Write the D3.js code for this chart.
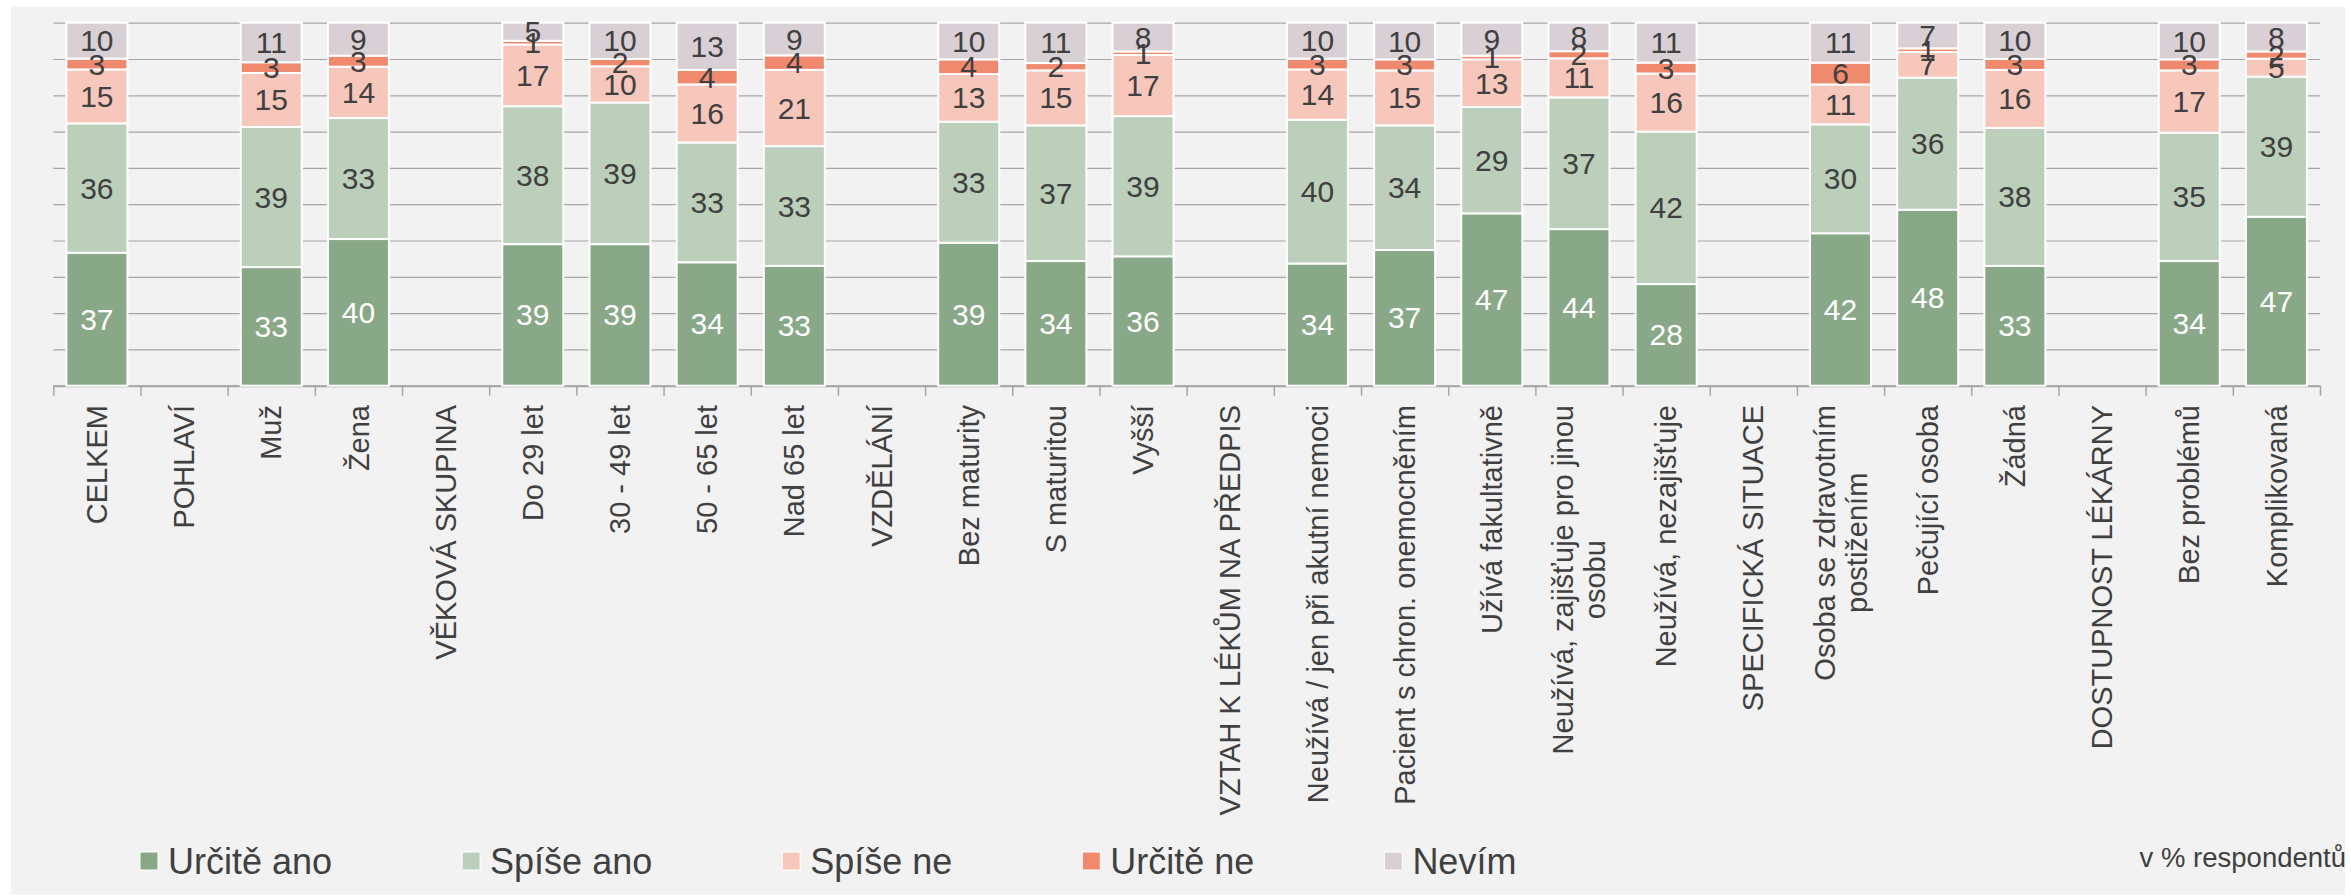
<!DOCTYPE html>
<html>
<head>
<meta charset="utf-8">
<script src="https://cdn.jsdelivr.net/npm/d3@7"></script>
<style>
  body { margin: 0; background: #fff; }
  text { font-family: "Liberation Sans", Arial, sans-serif; fill: #404040; }
</style>
</head>
<body>
<div id="chart"></div>
<script>
// DATA
// ------------------------------------------------------------------

var categories = [
  "CELKEM", "POHLAVÍ", "Muž", "Žena", "VĚKOVÁ SKUPINA", "Do 29 let",
  "30 - 49 let", "50 - 65 let", "Nad 65 let", "VZDĚLÁNÍ", "Bez maturity",
  "S maturitou", "Vyšší", "VZTAH K LÉKŮM NA PŘEDPIS",
  "Neužívá / jen při akutní nemoci", "Pacient s chron. onemocněním",
  "Užívá fakultativně", "Neužívá, zajišťuje pro jinou osobu",
  "Neužívá, nezajišťuje", "SPECIFICKÁ SITUACE",
  "Osoba se zdravotním postižením", "Pečující osoba", "Žádná",
  "DOSTUPNOST LÉKÁRNY", "Bez problémů", "Komplikovaná"
];

var seriesNames = ["Určitě ano", "Spíše ano", "Spíše ne", "Určitě ne", "Nevím"];
var seriesColors = ["#89a887", "#bbcfba", "#f8c7bc", "#f08a6f", "#d9d0d6"];

var urciteAno = [37, null, 33, 40, null, 39, 39, 34, 33, null, 39, 34, 36, null,
                 34, 37, 47, 44, 28, null, 42, 48, 33, null, 34, 47];
var spiseAno  = [36, null, 39, 33, null, 38, 39, 33, 33, null, 33, 37, 39, null,
                 40, 34, 29, 37, 42, null, 30, 36, 38, null, 35, 39];
var spiseNe   = [15, null, 15, 14, null, 17, 10, 16, 21, null, 13, 15, 17, null,
                 14, 15, 13, 11, 16, null, 11, 7, 16, null, 17, 5];
var urciteNe  = [3, null, 3, 3, null, 1, 2, 4, 4, null, 4, 2, 1, null,
                 3, 3, 1, 2, 3, null, 6, 1, 3, null, 3, 2];
var nevim     = [10, null, 11, 9, null, 5, 10, 13, 9, null, 10, 11, 8, null,
                 10, 10, 9, 8, 11, null, 11, 7, 10, null, 10, 8];

var unitNote = "v % respondentů";

// CANVAS
// ------------------------------------------------------------------

var width = 2351,
    height = 896;

var svg = d3.select("#chart")
    .append("svg")
    .attr("width", width)
    .attr("height", height);

svg.append("rect")
    .attr("x", 11)
    .attr("y", 7)
    .attr("width", 2334)
    .attr("height", 888)
    .attr("fill", "#f2f2f2");

// SCALES
// ------------------------------------------------------------------

var plotLeft = 53.3,
    plotRight = 2320,
    plotTop = 22.7,
    plotBottom = 385.7;

var xScale = d3.scaleBand()
    .domain(categories)
    .range([plotLeft, plotRight])
    .paddingInner(0.3)
    .paddingOuter(0.15);

var yScale = d3.scaleLinear()
    .domain([0, 1])
    .range([plotBottom, plotTop]);

var color = d3.scaleOrdinal()
    .domain(seriesNames)
    .range(seriesColors);

// boundaries between categories, for the axis ticks
var tickScale = d3.scaleLinear()
    .domain([0, categories.length])
    .range([plotLeft, plotRight]);

// GRID AND AXIS
// ------------------------------------------------------------------

var grid = svg.append("g")
    .attr("transform", "translate(" + plotLeft + ",0)")
    .call(d3.axisLeft(yScale)
      .ticks(10)
      .tickSize(-(plotRight - plotLeft))
      .tickFormat(""));
grid.select(".domain").remove();
grid.selectAll("line")
    .attr("stroke", "#a6a6a6")
    .attr("stroke-width", 1.2);

var xAxis = svg.append("g")
    .attr("transform", "translate(0," + plotBottom + ")")
    .call(d3.axisBottom(tickScale)
      .tickValues(d3.range(categories.length + 1))
      .tickSize(10)
      .tickSizeOuter(0)
      .tickFormat(""));
xAxis.select(".domain")
    .attr("stroke", "#a6a6a6")
    .attr("stroke-width", 2);
xAxis.selectAll(".tick line")
    .attr("stroke", "#a6a6a6")
    .attr("stroke-width", 1.5);

// BARS
// ------------------------------------------------------------------

var rows = categories.map(function(c, i) {
  var r = { cat: c };
  r[seriesNames[0]] = urciteAno[i];
  r[seriesNames[1]] = spiseAno[i];
  r[seriesNames[2]] = spiseNe[i];
  r[seriesNames[3]] = urciteNe[i];
  r[seriesNames[4]] = nevim[i];
  return r;
}).filter(function(r) { return r[seriesNames[0]] != null; });

var stacked = d3.stack()
    .keys(seriesNames)
    .offset(d3.stackOffsetExpand)(rows);

var layers = svg.append("g")
    .selectAll("g")
    .data(stacked)
    .enter().append("g")
    .attr("fill", function(d) { return color(d.key); });

layers.selectAll("rect")
    .data(function(d) { return d; })
    .enter().append("rect")
    .attr("x", function(d) { return xScale(d.data.cat); })
    .attr("y", function(d) { return yScale(d[1]); })
    .attr("width", xScale.bandwidth())
    .attr("height", function(d) { return yScale(d[0]) - yScale(d[1]); })
    .attr("stroke", "#fff")
    .attr("stroke-width", 2);

// value labels, centred in each segment
stacked.forEach(function(layer, k) {
  svg.append("g")
      .selectAll("text")
      .data(layer)
      .enter().append("text")
      .attr("x", function(d) { return xScale(d.data.cat) + xScale.bandwidth() / 2; })
      .attr("y", function(d) { return (yScale(d[0]) + yScale(d[1])) / 2; })
      .attr("dy", "0.35em")
      .attr("text-anchor", "middle")
      .style("font-size", "30px")
      .style("fill", k == 0 ? "#ffffff" : "#404040")
      .text(function(d) { return d.data[layer.key]; });
});

// CATEGORY LABELS
// ------------------------------------------------------------------

var labelSize = 29,
    labelMax = 419,
    lineStep = 32,
    labelTop = 405;

var measure = svg.append("text").style("font-size", labelSize + "px");
function textLength(s) {
  measure.text(s);
  return measure.node().getComputedTextLength();
}

function wrapLines(s) {
  var words = s.split(" "), lines = [], line = "";
  words.forEach(function(w) {
    var test = line ? line + " " + w : w;
    if (line && textLength(test) > labelMax) {
      lines.push(line);
      line = w;
    } else {
      line = test;
    }
  });
  lines.push(line);
  return lines;
}

categories.forEach(function(c) {
  var lines = wrapLines(c);
  var longest = d3.max(lines, textLength);
  var g = svg.append("g")
      .attr("transform", "translate(" + (xScale(c) + xScale.bandwidth() / 2) +
            "," + labelTop + ") rotate(-90)");
  lines.forEach(function(l, i) {
    g.append("text")
        .attr("x", -longest / 2)
        .attr("y", (i - (lines.length - 1) / 2) * lineStep)
        .attr("dy", "0.35em")
        .attr("text-anchor", "middle")
        .style("font-size", labelSize + "px")
        .text(l);
  });
});
measure.remove();

// LEGEND
// ------------------------------------------------------------------

var legendX = 140,
    legendY = 861;

seriesNames.forEach(function(name) {
  var item = svg.append("g");
  item.append("rect")
      .attr("x", legendX)
      .attr("y", legendY - 9)
      .attr("width", 18)
      .attr("height", 18)
      .attr("fill", color(name))
      .attr("stroke", "#fff")
      .attr("stroke-width", 1);
  var t = item.append("text")
      .attr("x", legendX + 28)
      .attr("y", legendY)
      .attr("dy", "0.35em")
      .style("font-size", "36px")
      .text(name);
  legendX += 28 + t.node().getComputedTextLength() + 130;
});

svg.append("text")
    .attr("x", 2346)
    .attr("y", 867)
    .attr("text-anchor", "end")
    .style("font-size", "27.5px")
    .text(unitNote);
</script>
</body>
</html>
